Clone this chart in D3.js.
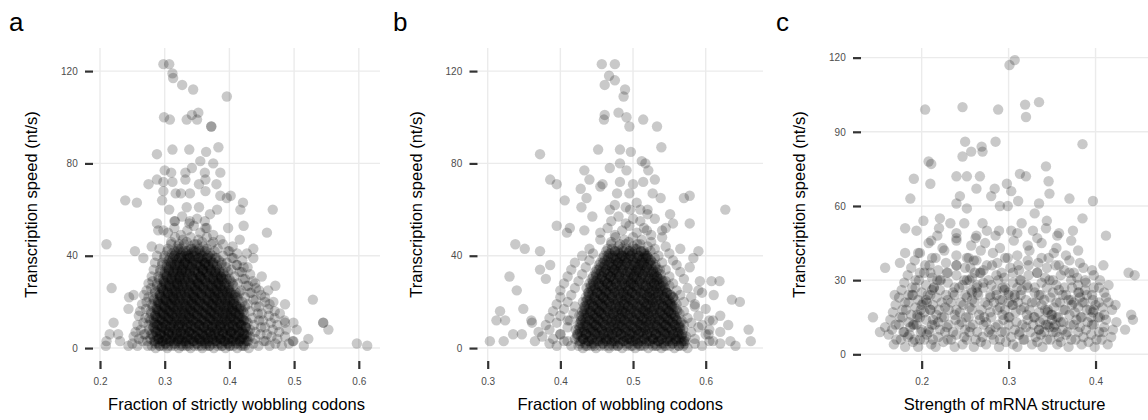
<!DOCTYPE html>
<html>
<head>
<meta charset="utf-8">
<script src="https://cdn.jsdelivr.net/npm/d3@7"></script>
<style>
  body { margin: 0; background: #fff; }
  svg { display: block; font-family: "Liberation Sans", Arial, Helvetica, sans-serif; }
</style>
</head>
<body>
<svg id="chart" width="1148" height="420"></svg>
<script>
// ---- data: (fraction / strength, transcription speed nt/s) pairs ----

// panel a: fraction of strictly wobbling codons
const strictWobbleDense = [
  .25,2, .258,1, .266,3, .274,1,
  .28,1, .283,3, .286,0, .29,2, .292,1, .295,3, .298,1, .302,2, .304,0, .307,3, .31,1, .314,2, .316,1, .319,3, .322,0, .326,2, .328,1, .331,3, .334,1, .338,2, .34,0, .343,3, .346,1, .35,2, .352,1, .355,3, .358,0, .362,2, .364,1, .367,3, .37,1, .374,2, .376,0, .379,3, .382,1, .386,2, .388,1, .391,3, .394,0, .398,2, .40,1, .403,3, .406,1, .41,2, .412,0, .415,3, .418,1, .422,2, .424,1, .427,3, .43,0,
  .437,2, .445,1, .453,3, .462,1, .471,2, .481,1, .492,2,
  .252,5, .26,4, .268,6, .273,3,
  .278,4, .281,6, .285,3, .288,5, .291,4, .294,6, .297,3, .30,5, .303,4, .306,6, .309,3, .312,5, .315,4, .318,6, .321,3, .324,5, .327,4, .33,6, .333,3, .336,5, .339,4, .342,6, .345,3, .348,5, .351,4, .354,6, .357,3, .36,5, .363,4, .366,6, .369,3, .372,5, .375,4, .378,6, .381,3, .384,5, .387,4, .39,6, .393,3, .396,5, .399,4, .402,6, .405,3, .408,5, .411,4, .414,6, .417,3, .42,5, .423,4, .426,6, .429,3, .432,5,
  .44,4, .448,6, .456,3, .465,5, .474,4, .486,5, .498,3,
  .255,7, .263,8, .27,6,
  .276,8, .279,6, .283,9, .286,7, .289,8, .293,6, .296,9, .299,7, .302,8, .306,6, .309,9, .312,7, .315,8, .319,6, .322,9, .325,7, .328,8, .332,6, .335,9, .338,7, .341,8, .345,6, .348,9, .351,7, .354,8, .358,6, .361,9, .364,7, .367,8, .371,6, .374,9, .377,7, .38,8, .384,6, .387,9, .39,7, .393,8, .397,6, .40,9, .403,7, .406,8, .41,6, .413,9, .416,7, .419,8, .423,6, .426,9, .429,7, .432,8,
  .44,7, .449,9, .458,6, .467,8, .477,7, .488,8,
  .258,10, .267,11,
  .275,10, .278,12, .282,9, .285,11, .288,10, .292,12, .295,9, .298,11, .301,10, .305,12, .308,9, .311,11, .314,10, .318,12, .321,9, .324,11, .327,10, .331,12, .334,9, .337,11, .34,10, .344,12, .347,9, .35,11, .353,10, .357,12, .36,9, .363,11, .366,10, .37,12, .373,9, .376,11, .379,10, .383,12, .386,9, .389,11, .392,10, .396,12, .399,9, .402,11, .405,10, .409,12, .412,9, .415,11, .418,10, .422,12, .425,9, .428,11,
  .438,10, .446,12, .455,9, .464,11, .474,10, .485,12,
  .26,14, .27,13,
  .276,13, .279,15, .283,12, .286,14, .289,13, .293,15, .296,12, .299,14, .302,13, .306,15, .309,12, .312,14, .315,13, .319,15, .322,12, .325,14, .328,13, .332,15, .335,12, .338,14, .341,13, .345,15, .348,12, .351,14, .354,13, .358,15, .361,12, .364,14, .367,13, .371,15, .374,12, .377,14, .38,13, .384,15, .387,12, .39,14, .393,13, .397,15, .40,12, .403,14, .406,13, .41,15, .413,12, .416,14, .419,13, .423,15, .426,12,
  .436,13, .444,15, .452,12, .461,14, .47,13, .478,15,
  .262,16, .271,17,
  .278,16, .281,18, .285,15, .288,17, .291,16, .295,18, .298,15, .301,17, .304,16, .308,18, .311,15, .314,17, .317,16, .321,18, .324,15, .327,17, .33,16, .334,18, .337,15, .34,17, .343,16, .347,18, .35,15, .353,17, .356,16, .36,18, .363,15, .366,17, .369,16, .373,18, .376,15, .379,17, .382,16, .386,18, .389,15, .392,17, .395,16, .399,18, .402,15, .405,17, .408,16, .412,18, .415,15, .418,17, .421,16, .424,18,
  .432,16, .441,18, .45,15, .46,17, .47,16,
  .265,19, .272,20,
  .28,19, .283,21, .287,18, .29,20, .293,19, .297,21, .30,18, .303,20, .306,19, .31,21, .313,18, .316,20, .319,19, .323,21, .326,18, .329,20, .332,19, .336,21, .339,18, .342,20, .345,19, .349,21, .352,18, .355,20, .358,19, .362,21, .365,18, .368,20, .371,19, .375,21, .378,18, .381,20, .384,19, .388,21, .391,18, .394,20, .397,19, .401,21, .404,18, .407,20, .41,19, .414,21, .417,18, .42,20,
  .428,19, .437,21, .446,18, .455,20, .462,19,
  .268,23, .275,22,
  .282,22, .285,24, .289,21, .292,23, .295,22, .299,24, .302,21, .305,23, .308,22, .312,24, .315,21, .318,23, .321,22, .325,24, .328,21, .331,23, .334,22, .338,24, .341,21, .344,23, .347,22, .351,24, .354,21, .357,23, .36,22, .364,24, .367,21, .37,23, .373,22, .377,24, .38,21, .383,23, .386,22, .39,24, .393,21, .396,23, .399,22, .403,24, .406,21, .409,23, .412,22, .416,24,
  .424,22, .432,24, .441,21, .449,23, .455,22,
  .272,25, .279,26,
  .285,25, .288,27, .292,24, .295,26, .298,25, .302,27, .305,24, .308,26, .311,25, .315,27, .318,24, .321,26, .324,25, .328,27, .331,24, .334,26, .337,25, .341,27, .344,24, .347,26, .35,25, .354,27, .357,24, .36,26, .363,25, .367,27, .37,24, .373,26, .376,25, .38,27, .383,24, .386,26, .389,25, .393,27, .396,24, .399,26, .402,25, .406,27, .41,24,
  .418,25, .426,27, .434,24, .441,26, .446,25,
  .275,28, .281,29,
  .288,28, .291,30, .295,27, .298,29, .301,28, .305,30, .308,27, .311,29, .314,28, .318,30, .321,27, .324,29, .327,28, .331,30, .334,27, .337,29, .34,28, .344,30, .347,27, .35,29, .353,28, .357,30, .36,27, .363,29, .366,28, .37,30, .373,27, .376,29, .379,28, .383,30, .386,27, .389,29, .392,28, .396,30, .399,27, .402,29, .405,28,
  .413,28, .421,30, .429,27, .436,29, .44,28,
  .28,31,
  .29,31, .293,33, .297,30, .30,32, .303,31, .307,33, .31,30, .313,32, .316,31, .32,33, .323,30, .326,32, .329,31, .333,33, .336,30, .339,32, .342,31, .346,33, .349,30, .352,32, .355,31, .359,33, .362,30, .365,32, .368,31, .372,33, .375,30, .378,32, .381,31, .385,33, .388,30, .391,32, .394,31, .398,33, .40,30,
  .408,31, .416,33, .424,30, .432,32,
  .283,34,
  .293,34, .296,36, .30,33, .303,35, .306,34, .31,36, .313,33, .316,35, .319,34, .323,36, .326,33, .329,35, .332,34, .336,36, .339,33, .342,35, .345,34, .349,36, .352,33, .355,35, .358,34, .362,36, .365,33, .368,35, .371,34, .375,36, .378,33, .381,35, .384,34, .388,36, .391,33, .395,35,
  .403,34, .411,36, .419,33, .428,35,
  .285,37,
  .296,37, .299,39, .303,36, .306,38, .309,37, .313,39, .316,36, .319,38, .322,37, .326,39, .329,36, .332,38, .335,37, .339,39, .342,36, .345,38, .348,37, .352,39, .355,36, .358,38, .361,37, .365,39, .368,36, .371,38, .374,37, .378,39, .381,36, .384,38, .388,37,
  .396,37, .404,39, .412,36, .42,38,
  .288,40,
  .30,40, .304,42, .308,39, .311,41, .315,40, .319,42, .322,39, .326,41, .33,40, .333,42, .337,39, .341,41, .344,40, .348,42, .352,39, .355,41, .359,40, .363,42, .366,39, .37,41, .374,40, .377,42, .38,39,
  .39,40, .398,42, .406,39, .412,41,
  .292,43, .305,43, .31,45, .315,42, .32,44, .325,43, .33,45, .335,42, .34,44, .345,43, .35,45, .355,42, .36,44, .365,43, .372,45, .382,43, .39,45, .40,42,
  .31,46, .316,48, .322,45, .328,47, .334,46, .34,48, .346,45, .352,47, .358,46, .365,48, .375,46, .386,47,
  .29,51, .305,50, .315,52, .325,49, .335,51, .345,53, .355,50, .365,52, .375,49,
  .315,55, .327,57, .338,54, .35,56, .362,55, .37,58
];
// panel a: the very dense black centre
const strictWobbleCore = [
  .285,2, .289,4, .293,1, .297,3, .301,2, .305,1, .309,4, .313,3, .317,2, .321,4, .325,1, .329,3, .333,2, .337,1, .341,4, .345,3, .349,2, .353,4, .357,1, .361,3, .365,2, .369,1, .373,4, .377,3, .381,2, .385,4, .389,1, .393,3, .397,2, .401,1, .405,4, .409,3, .413,2, .417,4, .421,1, .425,3,
  .283,5, .287,7, .291,4, .295,6, .299,5, .303,4, .307,7, .311,6, .315,5, .319,7, .323,4, .327,6, .331,5, .335,4, .339,7, .343,6, .347,5, .351,7, .355,4, .359,6, .363,5, .367,4, .371,7, .375,6, .379,5, .383,7, .387,4, .391,6, .395,5, .399,4, .403,7, .407,6, .411,5, .415,7, .419,4, .423,6, .427,5,
  .285,8, .289,10, .293,7, .297,9, .301,8, .305,7, .309,10, .313,9, .317,8, .321,10, .325,7, .329,9, .333,8, .337,7, .341,10, .345,9, .349,8, .353,10, .357,7, .361,9, .365,8, .369,7, .373,10, .377,9, .381,8, .385,10, .389,7, .393,9, .397,8, .401,7, .405,10, .409,9, .413,8, .417,10, .421,7, .425,9,
  .283,11, .287,13, .291,10, .295,12, .299,11, .303,10, .307,13, .311,12, .315,11, .319,13, .323,10, .327,12, .331,11, .335,10, .339,13, .343,12, .347,11, .351,13, .355,10, .359,12, .363,11, .367,10, .371,13, .375,12, .379,11, .383,13, .387,10, .391,12, .395,11, .399,10, .403,13, .407,12, .411,11, .415,13, .419,10, .423,12,
  .285,14, .289,16, .293,13, .297,15, .301,14, .305,13, .309,16, .313,15, .317,14, .321,16, .325,13, .329,15, .333,14, .337,13, .341,16, .345,15, .349,14, .353,16, .357,13, .361,15, .365,14, .369,13, .373,16, .377,15, .381,14, .385,16, .389,13, .393,15, .397,14, .401,13, .405,16, .409,15, .413,14, .417,16, .421,13,
  .287,17, .291,19, .295,16, .299,18, .303,17, .307,16, .311,19, .315,18, .319,17, .323,19, .327,16, .331,18, .335,17, .339,16, .343,19, .347,18, .351,17, .355,19, .359,16, .363,18, .367,17, .371,16, .375,19, .379,18, .383,17, .387,19, .391,16, .395,18, .399,17, .403,16, .407,19, .411,18, .415,17,
  .289,20, .293,22, .297,19, .301,21, .305,20, .309,19, .313,22, .317,21, .321,20, .325,22, .329,19, .333,21, .337,20, .341,19, .345,22, .349,21, .353,20, .357,22, .361,19, .365,21, .369,20, .373,19, .377,22, .381,21, .385,20, .389,22, .393,19, .397,21, .401,20, .405,19, .409,22,
  .293,23, .297,25, .301,22, .305,24, .309,23, .313,22, .317,25, .321,24, .325,23, .329,25, .333,22, .337,24, .341,23, .345,22, .349,25, .353,24, .357,23, .361,25, .365,22, .369,24, .373,23, .377,22, .381,25, .385,24, .389,23, .393,25, .397,22, .401,24, .405,23,
  .295,26, .299,28, .303,25, .307,27, .311,26, .315,25, .319,28, .323,27, .327,26, .331,28, .335,25, .339,27, .343,26, .347,25, .351,28, .355,27, .359,26, .363,28, .367,25, .371,27, .375,26, .379,25, .383,28, .387,27, .391,26, .395,28, .399,25,
  .299,29, .303,31, .307,28, .311,30, .315,29, .319,28, .323,31, .327,30, .331,29, .335,31, .339,28, .343,30, .347,29, .351,28, .355,31, .359,30, .363,29, .367,31, .371,28, .375,30, .379,29, .383,28, .387,31, .391,30,
  .303,32, .307,34, .311,31, .315,33, .319,32, .323,31, .327,34, .331,33, .335,32, .339,34, .343,31, .347,33, .351,32, .355,31, .359,34, .363,33, .367,32, .371,34, .375,31, .379,33, .383,32, .387,31,
  .307,35, .311,37, .315,34, .319,36, .323,35, .327,34, .331,37, .335,36, .339,35, .343,37, .347,34, .351,36, .355,35, .359,34, .363,37, .367,36, .371,35, .375,37, .379,34,
  .311,38, .315,40, .319,37, .323,39, .327,38, .331,37, .335,40, .339,39, .343,38, .347,40, .351,37, .355,39, .359,38, .363,37, .367,40, .371,39,
  .317,41, .321,43, .325,40, .329,42, .333,41, .337,40, .341,43, .345,42, .349,41, .353,43, .357,40, .361,42
];
const strictWobbleSparse = [
  .298,123, .307,123, .312,119, .313,117, .327,114, .344,112, .396,109,
  .299,100, .308,99, .334,99, .342,101, .352,102, .35,99, .372,96, .372,96,
  .288,84, .312,86, .338,86, .383,87, .355,81, .364,85, .375,80,
  .30,77, .31,76, .332,76, .342,78, .362,76, .386,76,
  .275,71, .288,73, .298,72, .312,72, .332,73, .353,71, .363,73, .38,71,
  .298,68, .317,67, .325,67, .339,67, .363,68, .386,66, .402,66,
  .239,64, .257,63, .296,64, .396,65, .421,63,
  .307,60, .334,61, .353,61, .381,60, .417,60, .467,60,
  .288,54, .298,51, .316,55, .339,55, .363,52, .398,52, .422,53, .458,50,
  .21,45, .28,44, .416,47, .437,43, .405,44, .254,42, .267,39, .427,41, .437,39, .422,35, .45,31,
  .218,26, .471,27, .46,25, .529,21, .486,19, .468,20, .245,22, .252,23,
  .221,11, .244,17, .486,11, .499,11, .545,11, .545,11, .553,8, .504,8, .522,4, .499,3, .515,1, .597,2, .613,1,
  .21,3, .209,1, .215,6, .231,3, .244,1, .228,6
];

// panel b: fraction of wobbling codons
const wobbleDense = [
  .385,2, .395,1, .405,3, .415,1,
  .425,1, .428,3, .431,0, .434,2, .437,1, .44,3, .443,1, .446,2, .449,0, .452,3, .455,1, .458,2, .461,1, .464,3, .467,0, .47,2, .473,1, .476,3, .479,1, .482,2, .485,0, .488,3, .491,1, .494,2, .497,1, .50,3, .503,0, .506,2, .509,1, .512,3, .515,1, .518,2, .521,0, .524,3, .527,1, .53,2, .533,1, .536,3, .539,0, .542,2, .545,1, .548,3, .551,1, .554,2, .557,0, .56,3, .563,1, .566,2, .569,1, .572,3, .575,0,
  .585,2, .595,1, .605,3,
  .375,5, .39,4, .40,6, .41,3,
  .42,4, .423,6, .426,3, .429,5, .432,4, .435,6, .438,3, .441,5, .444,4, .447,6, .45,3, .453,5, .456,4, .459,6, .462,3, .465,5, .468,4, .471,6, .474,3, .477,5, .48,4, .483,6, .486,3, .489,5, .492,4, .495,6, .498,3, .501,5, .504,4, .507,6, .51,3, .513,5, .516,4, .519,6, .522,3, .525,5, .528,4, .531,6, .534,3, .537,5, .54,4, .543,6, .546,3, .549,5, .552,4, .555,6, .558,3, .561,5, .564,4, .567,6, .57,3, .573,5,
  .585,4, .60,6, .61,3,
  .37,7, .385,8, .40,6, .41,9,
  .421,8, .424,6, .427,9, .43,7, .433,8, .436,6, .439,9, .442,7, .445,8, .448,6, .451,9, .454,7, .457,8, .46,6, .463,9, .466,7, .469,8, .472,6, .475,9, .478,7, .481,8, .484,6, .487,9, .49,7, .493,8, .496,6, .499,9, .502,7, .505,8, .508,6, .511,9, .514,7, .517,8, .52,6, .523,9, .526,7, .529,8, .532,6, .535,9, .538,7, .541,8, .544,6, .547,9, .55,7, .553,8, .556,6, .559,9, .562,7, .565,8, .568,6,
  .58,7, .59,9, .605,8, .62,7,
  .38,10, .395,11, .41,12,
  .425,10, .428,12, .431,9, .434,11, .437,10, .44,12, .443,9, .446,11, .449,10, .452,12, .455,9, .458,11, .461,10, .464,12, .467,9, .47,11, .473,10, .476,12, .479,9, .482,11, .485,10, .488,12, .491,9, .494,11, .497,10, .50,12, .503,9, .506,11, .509,10, .512,12, .515,9, .518,11, .521,10, .524,12, .527,9, .53,11, .533,10, .536,12, .539,9, .542,11, .545,10, .548,12, .551,9, .554,11, .557,10, .56,12, .563,9, .566,11, .57,10,
  .58,11, .595,10, .61,12,
  .385,13, .40,14, .413,12,
  .426,14, .429,12, .432,15, .435,13, .438,14, .441,12, .444,15, .447,13, .45,14, .453,12, .456,15, .459,13, .462,14, .465,12, .468,15, .471,13, .474,14, .477,12, .48,15, .483,13, .486,14, .489,12, .492,15, .495,13, .498,14, .501,12, .504,15, .507,13, .51,14, .513,12, .516,15, .519,13, .522,14, .525,12, .528,15, .531,13, .534,14, .537,12, .54,15, .543,13, .546,14, .549,12, .552,15, .555,13, .558,14, .561,12, .564,15,
  .575,13, .59,14, .605,12,
  .39,16, .405,17, .418,15,
  .43,16, .433,18, .436,15, .439,17, .442,16, .445,18, .448,15, .451,17, .454,16, .457,18, .46,15, .463,17, .466,16, .469,18, .472,15, .475,17, .478,16, .481,18, .484,15, .487,17, .49,16, .493,18, .496,15, .499,17, .502,16, .505,18, .508,15, .511,17, .514,16, .517,18, .52,15, .523,17, .526,16, .529,18, .532,15, .535,17, .538,16, .541,18, .544,15, .547,17, .55,16, .553,18, .556,15, .56,17,
  .57,16, .585,18, .60,17,
  .395,19, .41,20, .42,18,
  .431,20, .434,18, .437,21, .44,19, .443,20, .446,18, .449,21, .452,19, .455,20, .458,18, .461,21, .464,19, .467,20, .47,18, .473,21, .476,19, .479,20, .482,18, .485,21, .488,19, .491,20, .494,18, .497,21, .50,19, .503,20, .506,18, .509,21, .512,19, .515,20, .518,18, .521,21, .524,19, .527,20, .53,18, .533,21, .536,19, .539,20, .542,18, .545,21, .548,19, .551,20, .554,18, .557,21, .56,19,
  .57,20, .585,19,
  .40,22, .415,23,
  .435,22, .438,24, .441,21, .444,23, .447,22, .45,24, .453,21, .456,23, .459,22, .462,24, .465,21, .468,23, .471,22, .474,24, .477,21, .48,23, .483,22, .486,24, .489,21, .492,23, .495,22, .498,24, .501,21, .504,23, .507,22, .51,24, .513,21, .516,23, .519,22, .522,24, .525,21, .528,23, .531,22, .534,24, .537,21, .54,23, .543,22, .546,24, .549,21, .552,23, .555,22,
  .565,23, .58,22, .595,24,
  .40,25, .42,26,
  .436,26, .439,24, .442,27, .445,25, .448,26, .451,24, .454,27, .457,25, .46,26, .463,24, .466,27, .469,25, .472,26, .475,24, .478,27, .481,25, .484,26, .487,24, .49,27, .493,25, .496,26, .499,24, .502,27, .505,25, .508,26, .511,24, .514,27, .517,25, .52,26, .523,24, .526,27, .529,25, .532,26, .535,24, .538,27, .541,25, .544,26, .547,24, .55,27,
  .56,25, .575,26, .59,25,
  .405,28, .425,29,
  .44,28, .443,30, .446,27, .449,29, .452,28, .455,30, .458,27, .461,29, .464,28, .467,30, .47,27, .473,29, .476,28, .479,30, .482,27, .485,29, .488,28, .491,30, .494,27, .497,29, .50,28, .503,30, .506,27, .509,29, .512,28, .515,30, .518,27, .521,29, .524,28, .527,30, .53,27, .533,29, .536,28, .539,30, .542,27, .545,29,
  .555,28, .57,30,
  .41,31, .43,32,
  .445,31, .448,33, .451,30, .454,32, .457,31, .46,33, .463,30, .466,32, .469,31, .472,33, .475,30, .478,32, .481,31, .484,33, .487,30, .49,32, .493,31, .496,33, .499,30, .502,32, .505,31, .508,33, .511,30, .514,32, .517,31, .52,33, .523,30, .526,32, .529,31, .532,33, .535,30, .538,32,
  .55,31, .565,33,
  .415,34, .435,35,
  .45,34, .453,36, .456,33, .459,35, .462,34, .465,36, .468,33, .471,35, .474,34, .477,36, .48,33, .483,35, .486,34, .489,36, .492,33, .495,35, .498,34, .501,36, .504,33, .507,35, .51,34, .513,36, .516,33, .519,35, .522,34, .525,36, .528,33, .531,35, .534,34,
  .545,34, .56,36,
  .42,37, .44,38,
  .455,37, .458,39, .461,36, .464,38, .467,37, .47,39, .473,36, .476,38, .479,37, .482,39, .485,36, .488,38, .491,37, .494,39, .497,36, .50,38, .503,37, .506,39, .509,36, .512,38, .515,37, .518,39, .521,36, .524,38, .527,37, .53,39,
  .54,37, .555,38,
  .43,40, .445,41,
  .46,40, .463,42, .466,39, .469,41, .472,40, .475,42, .478,39, .481,41, .484,40, .487,42, .49,39, .493,41, .496,40, .499,42, .502,39, .505,41, .508,40, .511,42, .514,39, .517,41, .52,40, .524,42,
  .535,40, .55,41,
  .44,43, .465,43, .47,45, .475,42, .48,44, .485,43, .49,45, .495,42, .50,44, .505,43, .51,45, .515,42, .52,44, .53,43, .545,44,
  .455,47, .47,46, .476,48, .482,45, .488,47, .494,46, .50,48, .506,45, .512,47, .525,46, .54,48,
  .455,50, .465,52, .475,49, .485,51, .495,53, .505,50, .515,52, .525,49, .54,51,
  .47,55, .48,57, .49,54, .50,56, .51,55, .52,58, .53,56,
  .475,62, .49,61, .505,63, .52,60
];
// panel b: the very dense black centre
const wobbleCore = [
  .427,2, .431,4, .435,1, .439,3, .443,2, .447,1, .451,4, .455,3, .459,2, .463,4, .467,1, .471,3, .475,2, .479,1, .483,4, .487,3, .491,2, .495,4, .499,1, .503,3, .507,2, .511,1, .515,4, .519,3, .523,2, .527,4, .531,1, .535,3, .539,2, .543,1, .547,4, .551,3, .555,2, .559,4, .563,1, .567,3, .571,2,
  .423,5, .427,7, .431,4, .435,6, .439,5, .443,4, .447,7, .451,6, .455,5, .459,7, .463,4, .467,6, .471,5, .475,4, .479,7, .483,6, .487,5, .491,7, .495,4, .499,6, .503,5, .507,4, .511,7, .515,6, .519,5, .523,7, .527,4, .531,6, .535,5, .539,4, .543,7, .547,6, .551,5, .555,7, .559,4, .563,6, .567,5, .571,4,
  .425,8, .429,10, .433,7, .437,9, .441,8, .445,7, .449,10, .453,9, .457,8, .461,10, .465,7, .469,9, .473,8, .477,7, .481,10, .485,9, .489,8, .493,10, .497,7, .501,9, .505,8, .509,7, .513,10, .517,9, .521,8, .525,10, .529,7, .533,9, .537,8, .541,7, .545,10, .549,9, .553,8, .557,10, .561,7, .565,9, .569,8,
  .427,11, .431,13, .435,10, .439,12, .443,11, .447,10, .451,13, .455,12, .459,11, .463,13, .467,10, .471,12, .475,11, .479,10, .483,13, .487,12, .491,11, .495,13, .499,10, .503,12, .507,11, .511,10, .515,13, .519,12, .523,11, .527,13, .531,10, .535,12, .539,11, .543,10, .547,13, .551,12, .555,11, .559,13, .563,10, .567,12,
  .429,14, .433,16, .437,13, .441,15, .445,14, .449,13, .453,16, .457,15, .461,14, .465,16, .469,13, .473,15, .477,14, .481,13, .485,16, .489,15, .493,14, .497,16, .501,13, .505,15, .509,14, .513,13, .517,16, .521,15, .525,14, .529,16, .533,13, .537,15, .541,14, .545,13, .549,16, .553,15, .557,14, .561,16,
  .433,17, .437,19, .441,16, .445,18, .449,17, .453,16, .457,19, .461,18, .465,17, .469,19, .473,16, .477,18, .481,17, .485,16, .489,19, .493,18, .497,17, .501,19, .505,16, .509,18, .513,17, .517,16, .521,19, .525,18, .529,17, .533,19, .537,16, .541,18, .545,17, .549,16, .553,19, .557,18,
  .435,20, .439,22, .443,19, .447,21, .451,20, .455,19, .459,22, .463,21, .467,20, .471,22, .475,19, .479,21, .483,20, .487,19, .491,22, .495,21, .499,20, .503,22, .507,19, .511,21, .515,20, .519,19, .523,22, .527,21, .531,20, .535,22, .539,19, .543,21, .547,20, .551,19, .555,22,
  .439,23, .443,25, .447,22, .451,24, .455,23, .459,22, .463,25, .467,24, .471,23, .475,25, .479,22, .483,24, .487,23, .491,22, .495,25, .499,24, .503,23, .507,25, .511,22, .515,24, .519,23, .523,22, .527,25, .531,24, .535,23, .539,25, .543,22, .547,24, .551,23,
  .441,26, .445,28, .449,25, .453,27, .457,26, .461,25, .465,28, .469,27, .473,26, .477,28, .481,25, .485,27, .489,26, .493,25, .497,28, .501,27, .505,26, .509,28, .513,25, .517,27, .521,26, .525,25, .529,28, .533,27, .537,26, .541,28, .545,25,
  .445,29, .449,31, .453,28, .457,30, .461,29, .465,28, .469,31, .473,30, .477,29, .481,31, .485,28, .489,30, .493,29, .497,28, .501,31, .505,30, .509,29, .513,31, .517,28, .521,30, .525,29, .529,28, .533,31, .537,30, .541,29,
  .449,32, .453,34, .457,31, .461,33, .465,32, .469,31, .473,34, .477,33, .481,32, .485,34, .489,31, .493,33, .497,32, .501,31, .505,34, .509,33, .513,32, .517,34, .521,31, .525,33, .529,32, .533,31, .537,34,
  .455,35, .459,37, .463,34, .467,36, .471,35, .475,34, .479,37, .483,36, .487,35, .491,37, .495,34, .499,36, .503,35, .507,34, .511,37, .515,36, .519,35, .523,37, .527,34, .531,36,
  .461,38, .465,40, .469,37, .473,39, .477,38, .481,37, .485,40, .489,39, .493,38, .497,40, .501,37, .505,39, .509,38, .513,37, .517,40, .521,39, .525,38,
  .467,41, .471,43, .475,40, .479,42, .483,41, .487,40, .491,43, .495,42, .499,41, .503,43, .507,40, .511,42, .515,41, .519,40
];
const wobbleSparse = [
  .457,123, .475,123, .467,118, .475,116, .461,114, .489,112, .487,109,
  .461,101, .46,99, .48,102, .491,100, .514,99, .495,96, .533,96,
  .539,87, .452,86, .482,86, .497,85, .372,84, .512,81, .517,80, .482,80,
  .491,77, .433,77, .468,78, .521,77,
  .386,73, .395,71, .44,73, .458,71, .482,72, .50,71, .514,72, .53,73,
  .428,69, .455,70, .478,67, .495,67, .527,67, .57,65, .578,66,
  .406,64, .436,65, .538,65,
  .468,60, .496,60, .51,60, .429,61, .444,57, .551,58, .627,60,
  .395,53, .413,52, .578,54, .555,54, .409,50, .433,51, .519,51, .545,52,
  .338,45, .351,43, .372,42, .59,42, .565,43, .583,39, .578,35, .372,34,
  .33,31, .34,25, .317,16, .312,12, .324,12, .349,17, .335,6, .303,3, .322,3,
  .592,29, .608,29, .619,29, .611,23, .636,21, .647,20, .62,14, .659,8, .662,3, .634,3, .641,1, .631,10, .62,2, .604,6,
  .361,11, .365,3, .347,6, .36,12, .386,36, .38,30
];

// panel c: strength of mRNA structure
const structureDense = [
  .168,4, .176,6, .181,3, .19,5, .196,3, .203,6, .211,4, .216,3, .225,5, .23,6, .238,3, .247,4, .252,6, .26,3, .268,5, .274,4, .283,6, .289,3, .297,5, .305,4, .31,3, .318,6, .327,4, .333,5, .339,3, .348,6, .356,4, .36,5, .369,3, .377,6, .384,4, .392,5, .399,3, .407,6, .414,4,
  .162,8, .171,6, .179,9, .184,7, .192,6, .199,9, .206,8, .213,6, .219,7, .227,9, .234,6, .24,8, .249,7, .255,9, .262,6, .27,7, .277,9, .281,8, .29,6, .296,9, .303,7, .312,8, .317,6, .325,9, .331,7, .337,8, .344,6, .351,9, .358,7, .366,8, .372,6, .38,9, .386,7, .395,8, .401,6, .409,9, .418,7,
  .158,11, .166,10, .174,12, .18,9, .187,11, .194,12, .20,10, .209,9, .215,12, .221,10, .229,11, .236,9, .243,12, .25,10, .256,11, .264,9, .271,12, .279,10, .285,11, .292,9, .30,12, .307,10, .313,9, .32,11, .328,12, .335,10, .341,9, .347,11, .354,12, .362,10, .368,9, .375,12, .382,11, .389,10, .396,12, .404,9, .41,11, .42,10,
  .164,14, .17,12, .178,15, .185,13, .191,12, .198,15, .205,14, .212,12, .219,13, .226,15, .231,12, .239,14, .246,13, .254,15, .259,12, .267,14, .274,13, .28,15, .288,12, .294,14, .301,15, .309,13, .316,12, .322,14, .33,15, .336,13, .343,12, .35,14, .357,15, .363,13, .371,12, .378,14, .384,15, .391,13, .398,12, .405,15, .412,14, .424,13,
  .167,17, .175,15, .182,18, .188,16, .195,15, .203,17, .21,18, .217,16, .223,15, .231,18, .238,16, .244,17, .251,15, .258,18, .266,16, .272,15, .279,17, .287,18, .293,16, .30,15, .308,17, .314,18, .321,16, .329,15, .335,17, .342,18, .349,16, .355,15, .363,18, .37,16, .376,17, .383,15, .39,18, .397,17, .403,15, .41,16, .419,18,
  .17,20, .178,18, .185,21, .193,19, .199,18, .206,21, .213,20, .22,18, .227,19, .234,21, .24,18, .248,20, .255,19, .261,21, .269,18, .276,20, .283,21, .29,19, .296,18, .304,20, .311,21, .318,19, .324,18, .331,21, .338,20, .345,18, .352,19, .359,21, .365,18, .373,20, .38,19, .387,21, .394,18, .40,20, .408,19, .415,21,
  .174,23, .181,21, .189,24, .196,22, .202,21, .21,24, .217,23, .223,21, .23,22, .238,24, .245,21, .252,23, .258,22, .265,24, .273,21, .279,23, .286,24, .293,22, .30,21, .307,23, .314,24, .32,22, .327,21, .335,24, .341,22, .348,23, .355,21, .362,24, .369,22, .375,21, .382,23, .39,24, .397,22, .404,21, .412,23,
  .177,26, .185,24, .193,27, .20,25, .207,24, .214,27, .221,26, .228,24, .236,25, .243,27, .25,24, .257,26, .264,25, .271,27, .279,24, .286,26, .293,27, .30,25, .307,24, .315,26, .322,27, .33,25, .337,24, .344,27, .351,25, .358,26, .366,24, .373,27, .381,25, .388,26, .396,24, .404,27, .41,25,
  .18,29, .189,27, .197,30, .205,28, .214,27, .222,30, .23,29, .238,27, .247,28, .255,30, .263,27, .271,29, .28,28, .288,30, .296,27, .305,29, .313,30, .321,28, .33,27, .338,29, .347,30, .355,28, .364,27, .372,30, .38,28, .389,29, .398,27, .405,30,
  .184,32, .193,30, .203,33, .212,31, .221,30, .23,33, .24,32, .249,30, .258,31, .267,33, .277,30, .286,32, .295,31, .305,33, .314,30, .323,32, .333,33, .342,31, .351,30, .36,32, .37,33, .379,31, .388,30, .398,32,
  .188,35, .198,33, .209,36, .219,34, .229,33, .24,36, .25,35, .261,33, .271,34, .281,36, .292,33, .302,35, .312,34, .323,36, .333,33, .344,35, .354,36, .364,34, .375,33, .386,35, .396,34,
  .192,38, .204,36, .216,39, .228,37, .24,36, .252,39, .263,38, .275,36, .287,37, .299,39, .311,36, .322,38, .334,37, .346,39, .358,36, .37,38, .382,37,
  .198,41, .212,39, .226,42, .24,40, .254,39, .268,42, .282,41, .296,39, .31,40, .324,42, .338,39, .352,41, .366,40, .38,42,
  .208,45, .224,43, .24,46, .257,44, .273,45, .29,43, .306,46, .322,44, .338,45, .355,43, .372,46,
  .218,48, .24,49, .262,47, .285,48, .31,49, .333,47, .356,48,
  // darker clumps
  .186,8, .19,12, .195,16, .20,20, .205,22, .21,18, .213,14, .208,10, .19,24, .198,6, .212,26,
  .252,30, .256,35, .26,38, .264,28, .268,33, .258,25,
  .29,22, .295,26, .30,24, .305,20, .31,27,
  .335,10, .34,14, .345,12, .35,16, .355,9, .36,13, .352,11, .345,17,
  .372,22, .38,25, .385,21, .395,15, .398,18, .21,33, .218,30
];
const structureSparse = [
  .301,117, .307,119, .204,99, .247,100, .288,99, .319,101, .335,102, .32,96, .385,85,
  .25,86, .269,84, .27,82, .285,86, .257,82, .247,80, .208,78, .211,77,
  .191,71, .21,69, .24,72, .252,72, .267,72, .313,73, .32,72, .343,76, .346,70,
  .187,63, .244,64, .263,67, .284,67, .298,69, .303,66, .28,64, .311,62, .347,65, .37,63, .397,62,
  .29,60, .299,60, .24,61, .252,59, .335,61, .33,57, .385,55,
  .202,54, .221,55, .233,53, .181,51, .194,50, .22,51, .249,53, .27,53, .289,50, .303,50, .315,53, .328,50, .343,51, .344,54, .358,49, .374,50, .412,48, .263,48, .275,50, .24,47, .211,46,
  .196,41, .181,41, .158,35, .175,37, .409,36, .438,33, .445,32, .415,28, .423,20, .434,10, .441,16, .443,14, .144,15, .152,9, .169,24
];

// ticks
const xTicksA = [0.2, 0.3, 0.4, 0.5, 0.6];
const xTicksB = [0.3, 0.4, 0.5, 0.6];
const xTicksC = [0.2, 0.3, 0.4];
const yTicksAB = [0, 40, 80, 120];
const yTicksC = [0, 30, 60, 90, 120];

const tags = ["a", "b", "c"];
const xTitles = ["Fraction of strictly wobbling codons", "Fraction of wobbling codons", "Strength of mRNA structure"];
const yTitle = "Transcription speed (nt/s)";

// ---- drawing ----
function pairs(flat) {
  const out = [];
  for (let i = 0; i < flat.length; i += 2) out.push({x: flat[i], y: flat[i + 1]});
  return out;
}

const panels = [
  {tag: tags[0], pts: [strictWobbleDense, strictWobbleCore, strictWobbleSparse].flatMap(pairs),
   left: 93, right: 380, xDom: [0.18918, 0.63277], yDom: [-5.6, 130], xTicks: xTicksA, yTicks: yTicksAB,
   xTitle: xTitles[0], tagX: 9},
  {tag: tags[1], pts: [wobbleDense, wobbleCore, wobbleSparse].flatMap(pairs),
   left: 477.5, right: 763, xDom: [0.28596, 0.67885], yDom: [-5.6, 130], xTicks: xTicksB, yTicks: yTicksAB,
   xTitle: xTitles[1], tagX: 393},
  {tag: tags[2], pts: [structureDense, structureSparse].flatMap(pairs),
   left: 861, right: 1148, xDom: [0.13023, 0.46034], yDom: [-2.71, 123.9], xTicks: xTicksC, yTicks: yTicksC,
   xTitle: xTitles[2], tagX: 776}
];

const panelTop = 48, panelBottom = 361;
const svg = d3.select("#chart");

panels.forEach(p => {
  const x = d3.scaleLinear().domain(p.xDom).range([p.left, p.right]);
  const y = d3.scaleLinear().domain(p.yDom).range([panelBottom, panelTop]);
  const g = svg.append("g");

  // grid
  g.selectAll(".gx").data(p.xTicks).enter().append("line")
    .attr("x1", d => x(d)).attr("x2", d => x(d))
    .attr("y1", panelTop).attr("y2", panelBottom)
    .attr("stroke", "#ebebeb").attr("stroke-width", 1.4);
  g.selectAll(".gy").data(p.yTicks).enter().append("line")
    .attr("x1", p.left).attr("x2", p.right)
    .attr("y1", d => y(d)).attr("y2", d => y(d))
    .attr("stroke", "#ebebeb").attr("stroke-width", 1.4);

  // points
  g.append("g").selectAll("circle").data(p.pts).enter().append("circle")
    .attr("cx", d => x(d.x)).attr("cy", d => y(d.y))
    .attr("r", 5.2).attr("fill", "#000").attr("fill-opacity", 0.21);

  // axes
  const ax = g.append("g").attr("transform", `translate(0,${panelBottom})`)
    .call(d3.axisBottom(x).tickValues(p.xTicks).tickFormat(d3.format(".1f")).tickSize(8).tickPadding(8.4));
  const ay = g.append("g").attr("transform", `translate(${p.left},0)`)
    .call(d3.axisLeft(y).tickValues(p.yTicks).tickFormat(d3.format("d")).tickSize(8).tickPadding(7.3));
  [ax, ay].forEach(a => {
    a.select(".domain").remove();
    a.selectAll(".tick line").attr("stroke", "#333").attr("stroke-width", 2.2);
    a.selectAll(".tick text").attr("fill", "#4d4d4d").style("font-size", "10px")
      .style("font-family", "'Liberation Sans', Arial, Helvetica, sans-serif");
  });

  // titles
  svg.append("text").attr("x", (p.left + p.right) / 2).attr("y", 409.5)
    .attr("text-anchor", "middle").style("font-size", "16.5px").attr("fill", "#000")
    .text(p.xTitle);
  svg.append("text")
    .attr("transform", `translate(${p.left - 56},${(panelTop + panelBottom) / 2}) rotate(-90)`)
    .attr("text-anchor", "middle").style("font-size", "16.5px").attr("fill", "#000")
    .text(yTitle);
  svg.append("text").attr("x", p.tagX).attr("y", 30.5)
    .style("font-size", "26px").attr("fill", "#000").text(p.tag);
});
</script>
</body>
</html>
